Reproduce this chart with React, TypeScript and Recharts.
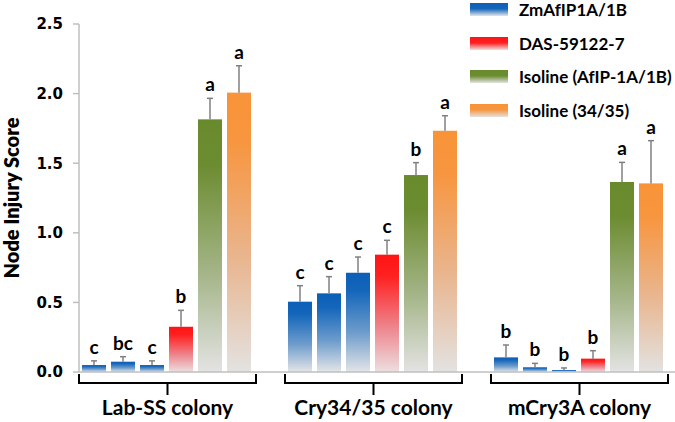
import React from 'react';
import { BarChart, Bar, XAxis, YAxis } from 'recharts';

const categories = ['Lab-SS colony', 'Cry34/35 colony', 'mCry3A colony'];
const event1 = [0.05, 0.505, 0.105];
const event2 = [0.074, 0.565, 0.034];
const event3 = [0.05, 0.713, 0.014];
const das = [0.325, 0.843, 0.096];
const isoAfip = [1.815, 1.415, 1.365];
const iso3435 = [2.007, 1.733, 1.355];
const event1Err = [0.03, 0.115, 0.089];
const event2Err = [0.036, 0.12, 0.028];
const event3Err = [0.03, 0.113, 0.015];
const dasErr = [0.118, 0.103, 0.057];
const isoAfipErr = [0.151, 0.089, 0.141];
const iso3435Err = [0.193, 0.108, 0.307];
const event1Sig = ['c', 'c', 'b'];
const event2Sig = ['bc', 'c', 'b'];
const event3Sig = ['c', 'c', 'b'];
const dasSig = ['b', 'c', 'b'];
const isoAfipSig = ['a', 'b', 'a'];
const iso3435Sig = ['a', 'a', 'a'];
const yTicks = [0, 0.5, 1.0, 1.5, 2.0, 2.5];
const legendLabels = ['ZmAfIP1A/1B', 'DAS-59122-7', 'Isoline (AfIP-1A/1B)', 'Isoline (34/35)'];

const data = categories.map((c, i) => ({
  colony: c,
  event1: event1[i], event1Err: event1Err[i], event1Sig: event1Sig[i],
  event2: event2[i], event2Err: event2Err[i], event2Sig: event2Sig[i],
  event3: event3[i], event3Err: event3Err[i], event3Sig: event3Sig[i],
  das: das[i], dasErr: dasErr[i], dasSig: dasSig[i],
  isoAfip: isoAfip[i], isoAfipErr: isoAfipErr[i], isoAfipSig: isoAfipSig[i],
  iso3435: iso3435[i], iso3435Err: iso3435Err[i], iso3435Sig: iso3435Sig[i],
}));

const gradients: Record<string, string[]> = {
  blue: ['#0c5fb7', '#1466bb', '#6d9ccb', '#e4e5e8'],
  red: ['#ff1414', '#ff2020', '#ee8088', '#ecdfe0'],
  green: ['#698a2c', '#6c8c31', '#a3b486', '#e3e3e3'],
  orange: ['#f89337', '#f79640', '#e9b690', '#e3e2e1'],
};
const legendColors = ['blue', 'red', 'green', 'orange'];

const FONT = 'Lato, "Open Sans", sans-serif';

const GradStops = ({ c }: { c: string[] }) => (
  <>
    <stop offset="0%" stopColor={c[0]} />
    <stop offset="18%" stopColor={c[1]} />
    <stop offset="60%" stopColor={c[2]} />
    <stop offset="100%" stopColor={c[3]} />
  </>
);

const makeShape = (key: string, grad: string) => (props: any) => {
  const { x, y, width, height, payload } = props;
  const value = payload[key];
  const err = payload[key + 'Err'];
  const sig = payload[key + 'Sig'];
  const ppu = value > 0 ? height / value : 0;
  const errTop = y - err * ppu;
  const cx = x + width / 2;
  return (
    <g>
      <rect x={x} y={y} width={width} height={height} fill={`url(#grad-${grad})`} />
      <line x1={cx} x2={cx} y1={y} y2={errTop} stroke="#808080" strokeWidth={1.5} />
      <line x1={cx - 3} x2={cx + 3} y1={errTop} y2={errTop} stroke="#808080" strokeWidth={1.5} />
      <text x={cx} y={errTop - 7} textAnchor="middle" fontFamily={FONT} fontWeight={700} fontSize={19} fill="#000">
        {sig}
      </text>
    </g>
  );
};

const XTick = (props: any) => {
  const { x, y, payload } = props;
  const hw = 88.5;
  return (
    <g>
      <path
        d={`M${x - hw},${y + 2} L${x - hw},${y + 11} L${x + hw},${y + 11} L${x + hw},${y + 2} M${x},${y + 11} L${x},${y + 23}`}
        stroke="#000"
        strokeWidth={2}
        fill="none"
      />
      <text x={x} y={y + 43} textAnchor="middle" fontFamily={FONT} fontWeight={700} fontSize={21} fill="#000">
        {payload.value}
      </text>
    </g>
  );
};

const LegendBox = () => (
  <div
    style={{
      position: 'absolute',
      left: 470,
      top: -7,
      fontFamily: FONT,
      fontWeight: 700,
      fontSize: 17,
      color: '#000',
      whiteSpace: 'nowrap',
    }}
  >
    {legendLabels.map((l, i) => (
      <div key={l} style={{ display: 'flex', alignItems: 'center', height: 33.5 }}>
        <svg width={38} height={13} style={{ marginRight: 11 }}>
          <defs>
            <linearGradient id={`lg-${i}`} x1="0" y1="0" x2="0" y2="1">
              <stop offset="0%" stopColor={gradients[legendColors[i]][0]} />
              <stop offset="45%" stopColor={gradients[legendColors[i]][1]} />
              <stop offset="100%" stopColor={gradients[legendColors[i]][3]} />
            </linearGradient>
          </defs>
          <rect x={0} y={0} width={38} height={13} fill={`url(#lg-${i})`} />
        </svg>
        <span>{l}</span>
      </div>
    ))}
  </div>
);

const series: [string, string][] = [
  ['event1', 'blue'],
  ['event2', 'blue'],
  ['event3', 'blue'],
  ['das', 'red'],
  ['isoAfip', 'green'],
  ['iso3435', 'orange'],
];

export default function App() {
  return (
    <div style={{ position: 'absolute', left: 0, top: 0, width: 675, height: 422, background: '#fff' }}>
      <BarChart
        width={675}
        height={422}
        data={data}
        margin={{ top: 24, right: 0, bottom: 0, left: 0 }}
        barGap={5}
        barCategoryGap={17.5}
      >
        <defs>
          {Object.keys(gradients).map((k) => (
            <linearGradient key={k} id={`grad-${k}`} x1="0" y1="0" x2="0" y2="1">
              <GradStops c={gradients[k]} />
            </linearGradient>
          ))}
        </defs>
        <XAxis
          dataKey="colony"
          height={50}
          padding={{ left: -14.5, right: -7.5 }}
          axisLine={{ stroke: '#bfbfbf', strokeWidth: 1.5 }}
          tickLine={false}
          tickSize={0}
          tickMargin={0}
          tick={<XTick />}
          interval={0}
        />
        <YAxis
          width={79}
          domain={[0, 2.5]}
          ticks={yTicks}
          tickFormatter={(v: number) => v.toFixed(1)}
          axisLine={{ stroke: '#bfbfbf', strokeWidth: 1.5 }}
          tickLine={{ stroke: '#bfbfbf', strokeWidth: 1.5 }}
          tickSize={6}
          tickMargin={10}
          tick={{ fontFamily: '"DejaVu Sans", sans-serif', fontWeight: 700, fontSize: 15, fill: '#000' }}
          label={{
            value: 'Node Injury Score',
            angle: -90,
            position: 'insideLeft',
            offset: 12,
            style: { fontFamily: FONT, fontWeight: 800, fontSize: 20, fill: '#000', textAnchor: 'middle' },
          }}
        />
        {series.map(([k, g]) => (
          <Bar key={k} dataKey={k} isAnimationActive={false} shape={makeShape(k, g)} />
        ))}
      </BarChart>
      <LegendBox />
    </div>
  );
}
